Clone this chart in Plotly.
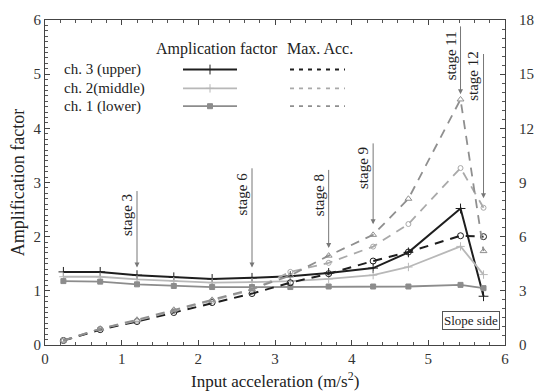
import plotly.graph_objects as go

# ---------------- data ----------------
INPUT_ACC = [0.24, 0.72, 1.2, 1.68, 2.18, 2.7, 3.2, 3.7, 4.28, 4.74, 5.42, 5.72]

AF_CH3 = [1.35, 1.35, 1.29, 1.25, 1.22, 1.24, 1.27, 1.33, 1.42, 1.71, 2.52, 0.90]
AF_CH2 = [1.26, 1.26, 1.21, 1.18, 1.15, 1.16, 1.18, 1.22, 1.29, 1.44, 1.82, 1.30]
AF_CH1 = [1.18, 1.17, 1.12, 1.09, 1.07, 1.07, 1.07, 1.08, 1.08, 1.08, 1.11, 1.05]

ACC_CH3 = [0.25, 0.85, 1.30, 1.80, 2.35, 2.85, 3.45, 3.95, 4.65, 5.15, 6.05, 6.00]
ACC_CH2 = [0.25, 0.90, 1.35, 1.90, 2.45, 3.05, 4.05, 4.55, 5.45, 6.70, 9.80, 7.60]
ACC_CH1 = [0.25, 0.90, 1.40, 1.95, 2.50, 3.10, 3.85, 4.95, 6.10, 8.10, 13.6, 5.20]

CHANNEL_NAMES = ["ch. 3 (upper)", "ch. 2(middle)", "ch. 1 (lower)"]
STAGE_LABELS = ["stage 3", "stage 6", "stage 8", "stage 9", "stage 11", "stage 12"]
STAGE_X = [1.2, 2.7, 3.7, 4.28, 5.42, 5.72]
STAGE_TIP = [1.43, 1.43, 1.79, 2.23, 4.63, 2.71]      # arrow tip (left-axis units)
STAGE_TOP = [2.87, 3.29, 3.26, 3.75, 5.91, 5.40]      # arrow tail (left-axis units)
STAGE_TEXT_Y = [2.40, 2.78, 2.76, 3.27, 5.34, 4.96]   # text centre (left-axis units)

X_TICKS = [0, 1, 2, 3, 4, 5, 6]
Y_TICKS = [0, 1, 2, 3, 4, 5, 6]
Y2_TICKS = [0, 3, 6, 9, 12, 15, 18]

# ---------------- styles ----------------
FONT = "Liberation Serif, Times New Roman, serif"
TXT = dict(family=FONT, size=15, color="#222")
C3, C2, C1 = "#1e1e1e", "#b8b8b8", "#8c8c8c"
DC3, DC2, DC1 = "#1e1e1e", "#a9a9a9", "#8f8f8f"
DASH = "9px,7px"

fig = go.Figure()

solid = [(AF_CH3, C3, "cross-thin", 7, 2.0),
         (AF_CH2, C2, "cross-thin", 6, 1.8),
         (AF_CH1, C1, "square", 5, 1.8)]
dashed = [(ACC_CH3, DC3, "circle-open", 6, 2.0),
          (ACC_CH2, DC2, "circle-open", 5, 1.8),
          (ACC_CH1, DC1, "triangle-up-open", 6, 1.8)]

for vals, col, sym, size, w in dashed:
    fig.add_trace(go.Scatter(x=INPUT_ACC, y=vals, yaxis="y2", mode="lines+markers",
                             line=dict(color=col, width=w, dash=DASH),
                             marker=dict(symbol=sym, size=size, color=col,
                                         line=dict(color=col, width=1)),
                             showlegend=False))
for vals, col, sym, size, w in solid:
    fig.add_trace(go.Scatter(x=INPUT_ACC, y=vals, mode="lines+markers",
                             line=dict(color=col, width=w),
                             marker=dict(symbol=sym, size=size, color=col,
                                         line=dict(color=col, width=1)),
                             showlegend=False))

# ---------------- custom legend (pixel overlay axis) ----------------
LEG_ROWS_PX = [67, 86, 104]
for i, (row, s, d) in enumerate(zip(LEG_ROWS_PX, solid, dashed)):
    fig.add_trace(go.Scatter(x=[183, 237], y=[row, row], xaxis="x3", yaxis="y3",
                             mode="lines", line=dict(color=s[1], width=s[4]),
                             showlegend=False, hoverinfo="skip"))
    fig.add_trace(go.Scatter(x=[210], y=[row], xaxis="x3", yaxis="y3", mode="markers",
                             marker=dict(symbol=s[2], size=s[3], color=s[1],
                                         line=dict(color=s[1], width=1)),
                             showlegend=False, hoverinfo="skip"))
    fig.add_trace(go.Scatter(x=[290, 345], y=[row, row], xaxis="x3", yaxis="y3",
                             mode="lines", line=dict(color=d[1], width=d[4], dash="4px,5px"),
                             showlegend=False, hoverinfo="skip"))
    fig.add_trace(go.Scatter(x=[318], y=[row], xaxis="x3", yaxis="y3", mode="markers",
                             marker=dict(symbol=d[2], size=d[3] + 1, color="white",
                                         line=dict(color=d[1], width=1)),
                             showlegend=False, hoverinfo="skip"))

annotations = []
for name, row in zip(CHANNEL_NAMES, LEG_ROWS_PX):
    annotations.append(dict(x=62, y=row, xref="x3", yref="y3", text=name, showarrow=False,
                            xanchor="left", yanchor="middle", font=TXT))
annotations.append(dict(x=217, y=46, xref="x3", yref="y3", text="Amplication factor",
                        showarrow=False, xanchor="center", yanchor="middle",
                        font=dict(family=FONT, size=16, color="#222")))
annotations.append(dict(x=320, y=46, xref="x3", yref="y3", text="Max. Acc.",
                        showarrow=False, xanchor="center", yanchor="middle",
                        font=dict(family=FONT, size=16, color="#222")))

# ---------------- stage arrows ----------------
for lab, sx, tip, top, ty in zip(STAGE_LABELS, STAGE_X, STAGE_TIP, STAGE_TOP, STAGE_TEXT_Y):
    annotations.append(dict(x=sx, y=tip, xref="x", yref="y", ax=sx, ay=top,
                            axref="x", ayref="y", text="", showarrow=True,
                            arrowhead=2, arrowsize=1, arrowwidth=1, arrowcolor="#777"))
    annotations.append(dict(x=sx, y=ty, xref="x", yref="y", text=lab, textangle=-90,
                            showarrow=False, xshift=-10, xanchor="center", yanchor="middle",
                            font=TXT))

annotations.append(dict(x=0.99, y=0.045, xref="paper", yref="paper", text="Slope side",
                        showarrow=False, xanchor="right", yanchor="bottom",
                        bordercolor="#555", borderwidth=1, borderpad=1,
                        font=dict(family=FONT, size=13, color="#222")))

# x-axis title as annotation so it fits the tight bottom margin
annotations.append(dict(x=0.5, y=-0.068, xref="paper", yref="paper",
                        text="Input acceleration (m/s<sup>2</sup>)", showarrow=False,
                        xanchor="center", yanchor="top",
                        font=dict(family=FONT, size=17, color="#222")))

axis_common = dict(showgrid=False, zeroline=False, showline=True, linecolor="#444",
                   linewidth=1, ticks="inside", ticklen=5, tickcolor="#444",
                   tickfont=dict(family=FONT, size=15, color="#333"))

fig.update_layout(
    width=551, height=391,
    margin=dict(l=45, r=46, t=17, b=46),
    paper_bgcolor="white", plot_bgcolor="white",
    font=dict(family=FONT, color="#222"),
    xaxis=dict(range=[0, 6], tickvals=X_TICKS, mirror="ticks",
               minor=dict(dtick=0.2, ticklen=3, ticks="inside", tickcolor="#555"),
               **axis_common),
    yaxis=dict(range=[0, 6], tickvals=Y_TICKS,
               minor=dict(dtick=0.1, ticklen=3, ticks="inside", tickcolor="#555"),
               title=dict(text="Amplification factor", font=dict(family=FONT, size=18),
                          standoff=4),
               **axis_common),
    yaxis2=dict(range=[0, 18], tickvals=Y2_TICKS, overlaying="y", side="right",
                minor=dict(dtick=0.5, ticklen=3, ticks="inside", tickcolor="#555"),
                ticklabelstandoff=10, automargin=False,
                **axis_common),
    xaxis3=dict(range=[45, 505], overlaying="x", visible=False, fixedrange=True),
    yaxis3=dict(range=[345, 17], overlaying="y", visible=False, fixedrange=True),
    annotations=annotations,
    showlegend=False,
)

fig.write_html("out.html", config={"displayModeBar": False},
               post_script="document.body.style.margin='0';document.body.style.overflow='hidden';")
